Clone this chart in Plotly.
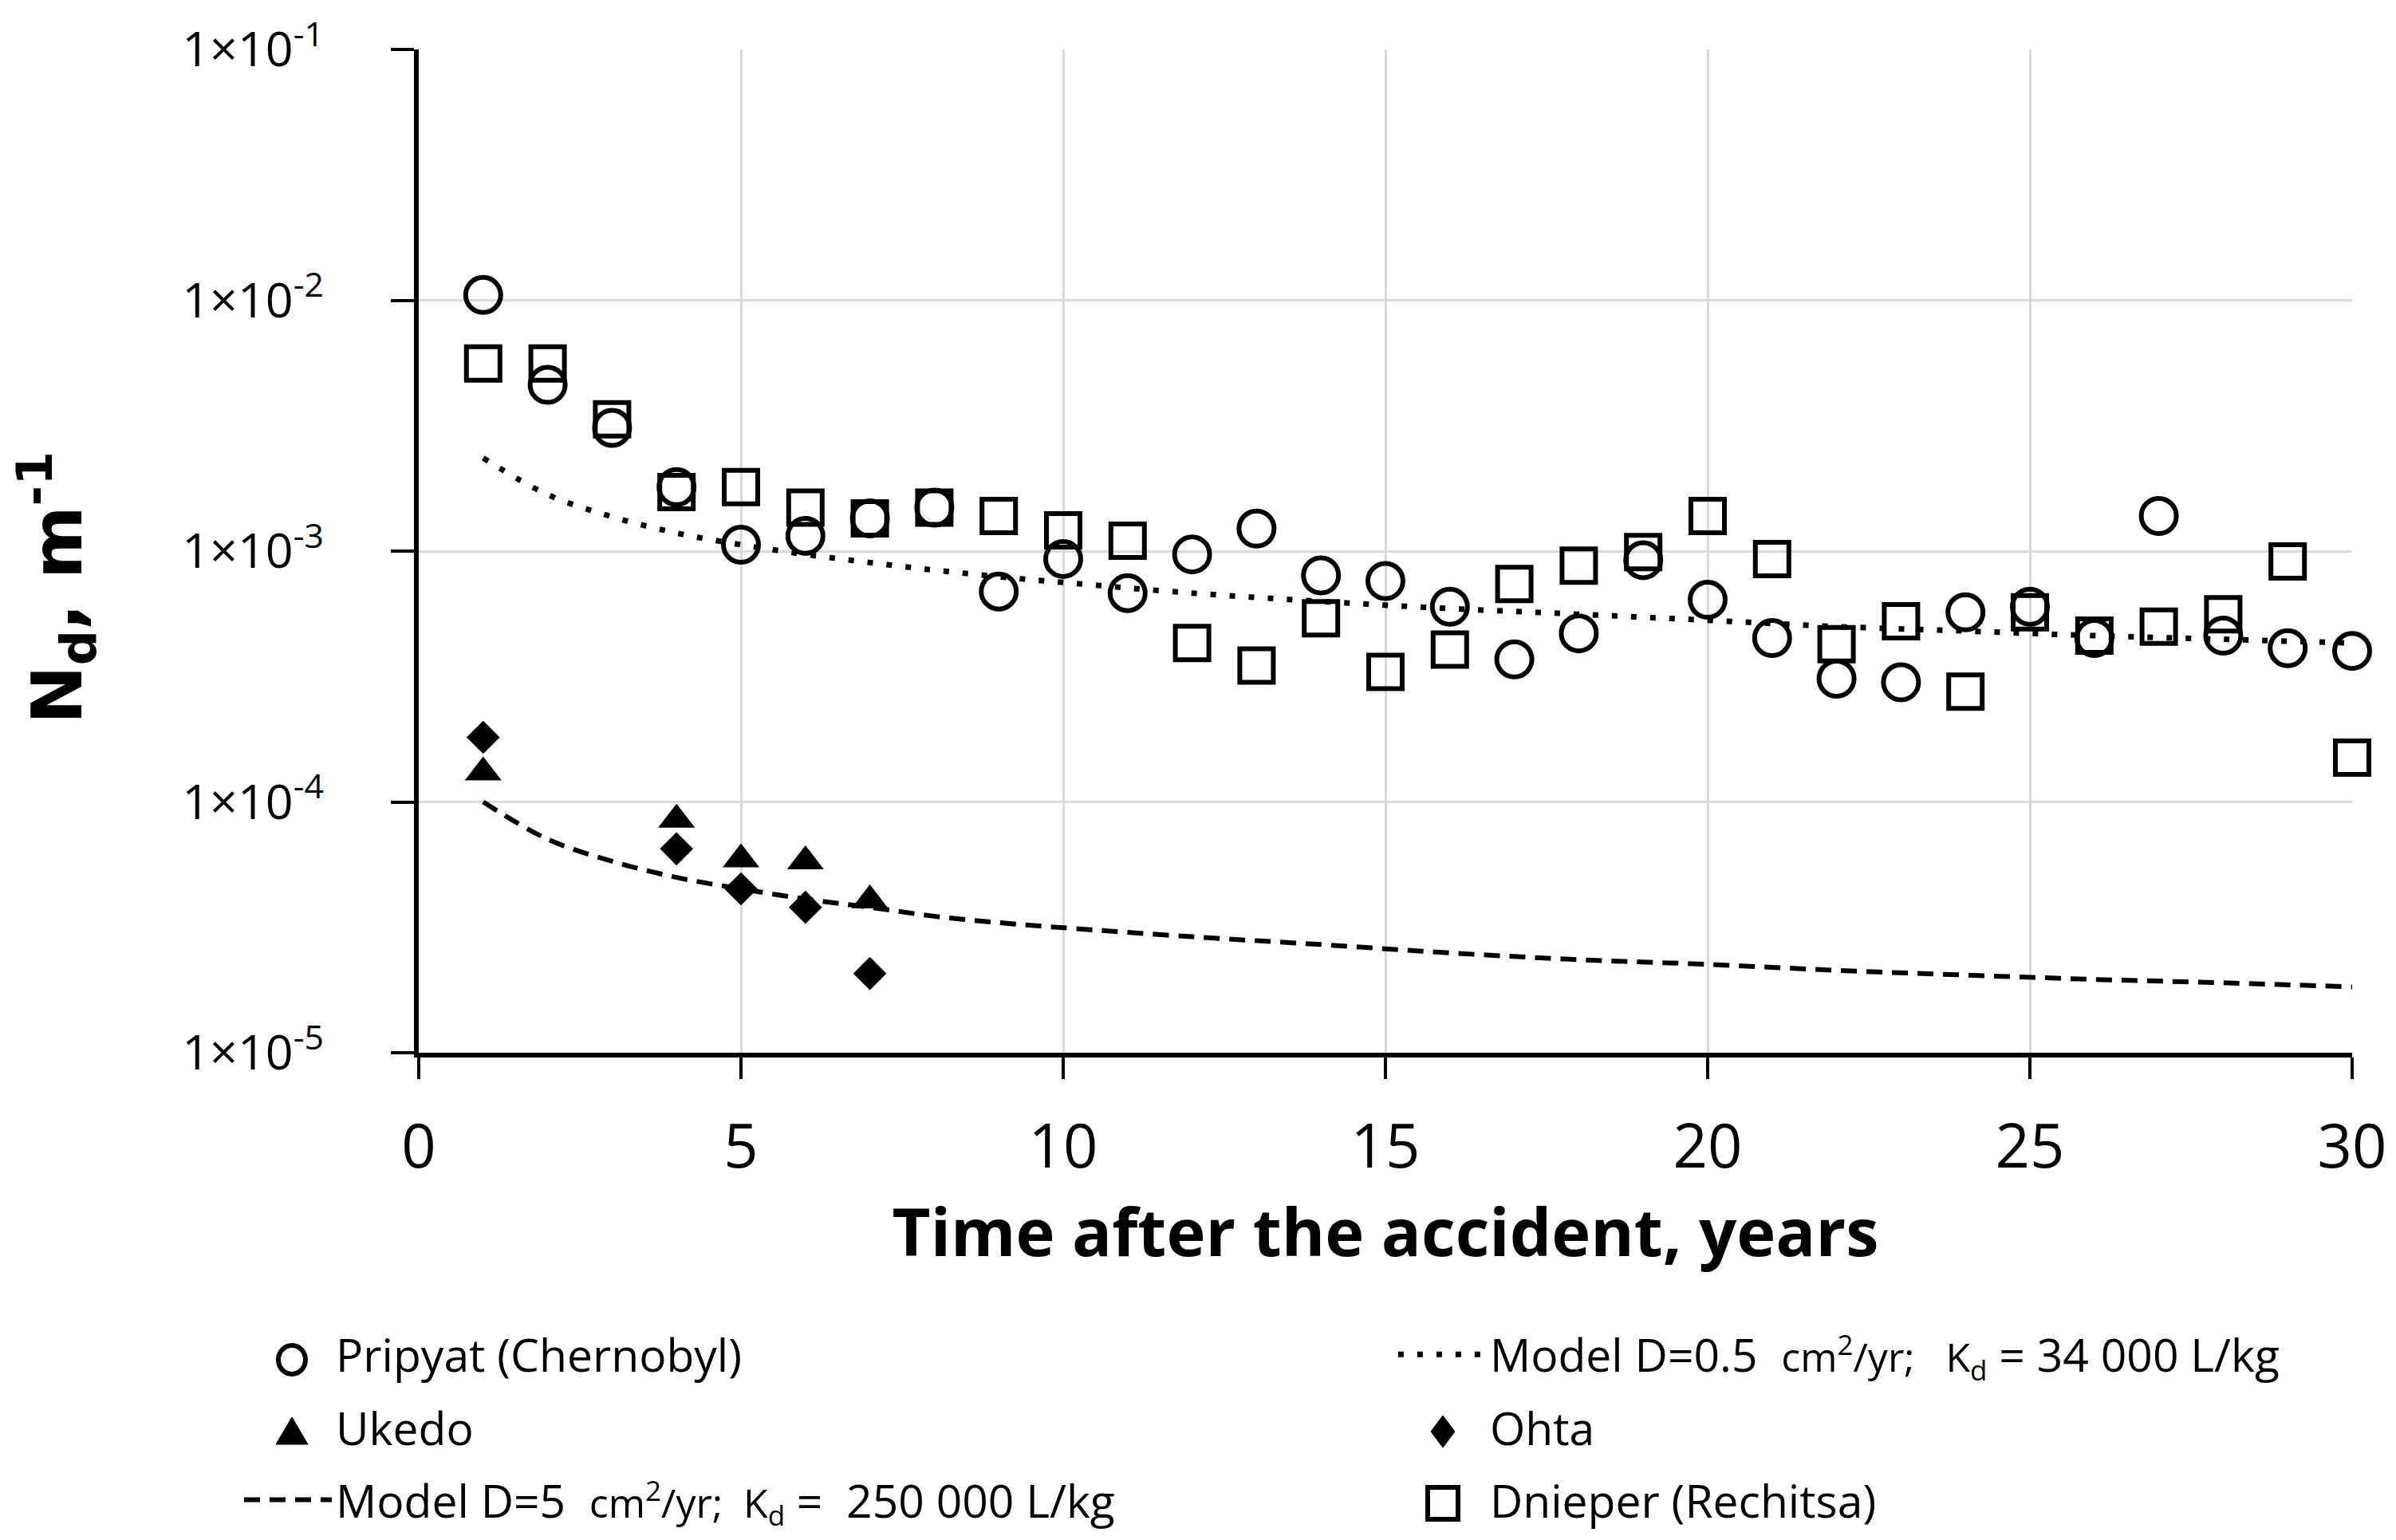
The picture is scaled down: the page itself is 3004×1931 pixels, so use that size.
import plotly.graph_objects as go

years = list(range(1, 31))

pripyat = [1.05e-2, 4.6e-3, 3.1e-3, 1.8e-3, 1.06e-3, 1.15e-3, 1.35e-3, 1.49e-3, 6.9e-4, 9.3e-4,
           6.8e-4, 9.7e-4, 1.23e-3, 8.0e-4, 7.6e-4, 6.0e-4, 3.7e-4, 4.7e-4, 9.2e-4, 6.4e-4,
           4.5e-4, 3.1e-4, 3.0e-4, 5.7e-4, 6.0e-4, 4.5e-4, 1.38e-3, 4.6e-4, 4.1e-4, 4.0e-4]

dnieper = [5.6e-3, 5.6e-3, 3.35e-3, 1.72e-3, 1.8e-3, 1.49e-3, 1.35e-3, 1.49e-3, 1.38e-3, 1.21e-3,
           1.1e-3, 4.3e-4, 3.5e-4, 5.4e-4, 3.3e-4, 4.05e-4, 7.4e-4, 8.75e-4, 9.9e-4, 1.38e-3,
           9.3e-4, 4.25e-4, 5.25e-4, 2.75e-4, 5.7e-4, 4.6e-4, 5.0e-4, 5.6e-4, 9.1e-4, 1.5e-4]

ukedo_years = [1, 4, 5, 6, 7]
ukedo = [1.31e-4, 8.5e-5, 5.9e-5, 5.8e-5, 4.05e-5]

ohta_years = [1, 4, 5, 6, 7]
ohta = [1.81e-4, 6.5e-5, 4.5e-5, 3.8e-5, 2.07e-5]

model_years = [1, 2, 3, 4, 5, 6, 7, 8, 9, 10, 12, 14, 16, 18, 20, 22, 24, 26, 28, 30]
model_d05 = [2.35e-3, 1.68e-3, 1.37e-3, 1.18e-3, 1.06e-3, 9.7e-4, 9.0e-4, 8.4e-4, 7.9e-4, 7.5e-4,
             6.8e-4, 6.3e-4, 5.9e-4, 5.6e-4, 5.3e-4, 5.0e-4, 4.8e-4, 4.6e-4, 4.45e-4, 4.3e-4]
model_d5 = [1.0e-4, 7.1e-5, 5.8e-5, 5.0e-5, 4.5e-5, 4.1e-5, 3.8e-5, 3.5e-5, 3.3e-5, 3.15e-5,
            2.9e-5, 2.7e-5, 2.5e-5, 2.35e-5, 2.25e-5, 2.13e-5, 2.04e-5, 1.96e-5, 1.9e-5, 1.83e-5]

y_tickvals = [1e-5, 1e-4, 1e-3, 1e-2, 1e-1]
y_ticktext = ["1×10<sup>-5</sup>", "1×10<sup>-4</sup>", "1×10<sup>-3</sup>", "1×10<sup>-2</sup>", "1×10<sup>-1</sup>"]
x_tickvals = [0, 5, 10, 15, 20, 25, 30]

SMALL = "<span style='font-size:50px'>"
names = {
    "pripyat": "Pripyat (Chernobyl)",
    "d05": "Model D=0.5  " + SMALL + "cm<sup>2</sup>/yr;   K<sub>d</sub></span> = 34 000 L/kg",
    "ukedo": "Ukedo",
    "ohta": "Ohta",
    "d5": "Model D=5  " + SMALL + "cm<sup>2</sup>/yr;  K<sub>d</sub></span> =  250 000 L/kg",
    "dnieper": "Dnieper (Rechitsa)",
}

FONT = "Open Sans"

fig = go.Figure()

# data traces
fig.add_trace(go.Scatter(x=years, y=pripyat, mode="markers", showlegend=False, cliponaxis=False,
                         marker=dict(symbol="circle-open", size=44, color="black", line=dict(width=6, color="black"))))
fig.add_trace(go.Scatter(x=ukedo_years, y=ukedo, mode="markers", showlegend=False, cliponaxis=False,
                         marker=dict(symbol="triangle-up", size=40, color="black")))
fig.add_trace(go.Scatter(x=model_years, y=model_d5, mode="lines", name=names["d5"],
                         legend="legend", legendgroup="c", legendrank=3,
                         line=dict(color="black", width=6, dash="20px,12px", shape="spline")))
fig.add_trace(go.Scatter(x=model_years, y=model_d05, mode="lines", name=names["d05"],
                         legend="legend2", legendgroup="d", legendrank=1,
                         line=dict(color="black", width=7, dash="7px,17px", shape="spline")))
fig.add_trace(go.Scatter(x=ohta_years, y=ohta, mode="markers", showlegend=False, cliponaxis=False,
                         marker=dict(symbol="diamond", size=32, color="black")))
fig.add_trace(go.Scatter(x=years, y=dnieper, mode="markers", showlegend=False, cliponaxis=False,
                         marker=dict(symbol="square-open", size=42, color="black", line=dict(width=6, color="black"))))

# legend entries for the marker series (symbols drawn as larger shapes below)
for key, leg, grp, rank in [("pripyat", "legend", "a", 1), ("ukedo", "legend", "b", 2),
                            ("ohta", "legend2", "e", 2), ("dnieper", "legend2", "f", 3)]:
    fig.add_trace(go.Scatter(x=[None], y=[None], mode="markers", name=names[key],
                             legend=leg, legendgroup=grp, legendrank=rank,
                             marker=dict(size=10, color="rgba(0,0,0,0)")))

legend_common = dict(orientation="v", yanchor="top", xanchor="left", itemwidth=110,
                     tracegroupgap=14, traceorder="grouped",
                     font=dict(family=FONT, size=57, color="black"), bgcolor="rgba(0,0,0,0)")

ROW1, ROW2, ROW3 = -0.306, -0.3776, -0.4491
LEFT_X, RIGHT_X = -0.0656, 0.5297

def sym(kind, xa, ya, **kw):
    base = dict(type=kind, xref="paper", yref="paper", xsizemode="pixel", ysizemode="pixel",
                xanchor=xa, yanchor=ya, layer="above")
    base.update(kw)
    return base

shapes = [
    sym("circle", LEFT_X, ROW1, x0=-17, x1=17, y0=-18, y1=18, line=dict(color="black", width=6)),
    sym("path", LEFT_X, ROW2, path="M-20,-16 L20,-16 L0,18 Z", fillcolor="black", line=dict(color="black", width=1)),
    sym("path", RIGHT_X, ROW2, path="M0,20 L15,0 L0,-20 L-15,0 Z", fillcolor="black", line=dict(color="black", width=1)),
    sym("rect", RIGHT_X, ROW3, x0=-19, x1=19, y0=-20, y1=20, line=dict(color="black", width=6)),
]

fig.update_layout(
    width=3004, height=1931,
    margin=dict(l=517, r=63, t=54, b=619),
    paper_bgcolor="white", plot_bgcolor="white",
    font=dict(family=FONT, color="black", size=56),
    showlegend=True,
    legend=dict(x=-0.0924, y=-0.266, **legend_common),
    legend2=dict(x=0.5045, y=-0.266, **legend_common),
    shapes=shapes,
)

fig.update_xaxes(
    range=[0, 30], tickvals=x_tickvals, showgrid=True, gridcolor="#d9d9d9", gridwidth=3,
    showline=True, linecolor="black", linewidth=6, ticks="outside", ticklen=27, tickwidth=4,
    tickcolor="black", tickfont=dict(family=FONT, size=76), ticklabelstandoff=20,
    zeroline=False, automargin=False,
    title=dict(text="<b>Time after the accident, years</b>", font=dict(family=FONT, size=83), standoff=33),
)
fig.update_yaxes(
    type="log", range=[-5, -1], tickvals=y_tickvals, ticktext=y_ticktext,
    showgrid=True, gridcolor="#d9d9d9", gridwidth=3, showline=True,
    linecolor="black", linewidth=6, ticks="outside", ticklen=29, tickwidth=4, tickcolor="black",
    tickfont=dict(family=FONT, size=61), ticklabelstandoff=72, zeroline=False, automargin=False,
    title=dict(text="<b>N<sub>d</sub>, m<sup>-1</sup>&nbsp;&nbsp;&nbsp;</b>",
               font=dict(family="DejaVu Sans", size=88), standoff=130),
)

fig.write_html("out.html")
